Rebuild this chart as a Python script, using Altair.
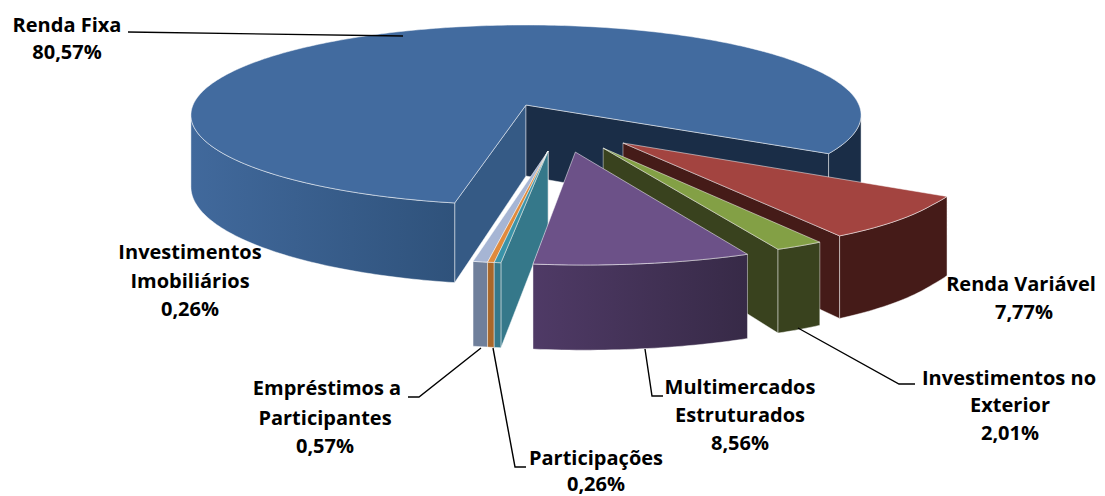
import math
import altair as alt
import pandas as pd

categories = ["Renda Fixa", "Renda Variável", "Investimentos no Exterior", "Multimercados Estruturados",
              "Investimentos Imobiliários", "Participações", "Empréstimos a Participantes"]
shares = [80.57, 7.77, 2.01, 8.56, 0.26, 0.26, 0.57]
top_colors = ["#426B9F", "#A34440", "#83A045", "#6C5188", "#3A93A8", "#E08A3C", "#A6B5D4"]
wall_left = ["#41699C", "#451B18", "#39421E", "#4F3A66", "#35788A", "#A8672A", "#6F7F9B"]
wall_right = ["#2F527B", "#451B18", "#39421E", "#372A47", "#35788A", "#A8672A", "#6F7F9B"]
start_face = ["#355A85", "#451B18", "#39421E", "#372A47", "#35788A", "#A8672A", "#6F7F9B"]
end_face = ["#1A2D47", "#451B18", "#39421E", "#372A47", "#35788A", "#A8672A", "#6F7F9B"]
explode_x = [0.0, 0.278, 0.22, 0.14, 0.0626, 0.0626, 0.0626]
explode_y = [0.0, 0.408, 0.46, 0.50, 0.49, 0.49, 0.49]

label_lines = [
    ("Renda Fixa", 67, 26), ("80,57%", 67, 53),
    ("Investimentos", 190, 253), ("Imobiliários", 190, 282), ("0,26%", 190, 310),
    ("Renda Variável", 1021, 285), ("7,77%", 1024, 313),
    ("Investimentos no", 1009, 379), ("Exterior", 1010, 406), ("2,01%", 1010, 434),
    ("Multimercados", 740, 388), ("Estruturados", 740, 416), ("8,56%", 740, 444),
    ("Empréstimos a", 327, 389), ("Participantes", 325, 419), ("0,57%", 325, 447),
    ("Participações", 596, 459), ("0,26%", 596, 485),
]
leaders = [
    [(128, 32), (403, 36)],
    [(408, 397), (419, 397), (481, 348)],
    [(493, 348), (515, 467), (526, 467)],
    [(645, 349), (652, 396), (663, 396)],
    [(798, 328), (899, 384), (915, 384)],
]

# projection of the tilted pie onto the page
CX, CY, A, B, K, H = 526.0, 105.0, 333.0, 88.9, 0.111, 71.0
STRETCH = 0.08
START_ANGLE = 191.0

W, H_PAGE = 1089, 488
xs = alt.Scale(domain=[8, 8 + W], nice=False, zero=False)
ys = alt.Scale(domain=[8 + H_PAGE, 8], nice=False, zero=False)


def project(wx, wy, drop=False):
    s = 1.0 / (1.0 - K * wy)
    stretch = 1.0 + STRETCH * max(0.0, wy - 1.0)
    return (CX + A * wx * s * stretch, CY + B * wy * s + (H * s if drop else 0.0))


def rim(theta, ex, ey, drop=False):
    t = math.radians(theta)
    return project(math.sin(t) + ex, -math.cos(t) + ey, drop)


def grad(c1, c2):
    return alt.Gradient(gradient="linear", x1=0, x2=1, y1=0, y2=0,
                        stops=[alt.GradientStop(offset=0, color=c1), alt.GradientStop(offset=1, color=c2)])


def poly(points, fill, edge=0.45):
    pts = list(points) + [points[0]]
    df = pd.DataFrame({"x": [p[0] for p in pts], "y": [p[1] for p in pts], "i": range(len(pts))})
    return alt.Chart(df).mark_line(fill=fill, stroke="#FFFFFF", strokeWidth=1, strokeOpacity=edge,
                                   strokeJoin="round", clip=False).encode(
        x=alt.X("x:Q", scale=xs, axis=None),
        y=alt.Y("y:Q", scale=ys, axis=None),
        order=alt.Order("i:Q"),
    )


def arc_points(a, b, ex, ey, drop=False):
    n = max(2, int(abs(b - a)) + 1)
    return [rim(a + (b - a) * j / n, ex, ey, drop) for j in range(n + 1)]


def slice_layers(i, a, b):
    ex, ey = explode_x[i], explode_y[i]
    apex, apex_low = project(ex, ey), project(ex, ey, True)
    out = []
    if -math.sin(math.radians(a)) > 0:
        out.append(poly([apex, rim(a, ex, ey), rim(a, ex, ey, True), apex_low], start_face[i]))
    if math.sin(math.radians(b)) > 0:
        out.append(poly([apex, rim(b, ex, ey), rim(b, ex, ey, True), apex_low], end_face[i]))
    # outer wall: only the arc that faces the viewer
    for lo, hi in [(96.4, 263.6), (456.4, 623.6)]:
        p, q = max(a, lo), min(b, hi)
        if q > p:
            fill = end_face[i] if lo > 360 and i == 0 else grad(wall_left[i], wall_right[i])
            pts = arc_points(p, q, ex, ey) + arc_points(q, p, ex, ey, True)
            out.append(poly(pts, fill))
    out.append(poly([apex] + arc_points(a, b, ex, ey), top_colors[i], 0.5))
    return out


# cumulative angles, clockwise from the back of the pie
spans = []
cur = START_ANGLE
for v in shares:
    spans.append((cur, cur + v * 3.6))
    cur += v * 3.6
# all but the first wrap past 360
spans = [spans[0]] + [(a - 360, b - 360) for a, b in spans[1:]]

layers = []
for i in [0, 1, 2, 6, 5, 4, 3]:
    layers += slice_layers(i, *spans[i])

for k, pts in enumerate(leaders):
    df = pd.DataFrame({"x": [p[0] for p in pts], "y": [p[1] for p in pts], "i": range(len(pts))})
    layers.append(alt.Chart(df).mark_line(color="#000000", strokeWidth=1.4).encode(
        x=alt.X("x:Q", scale=xs, axis=None), y=alt.Y("y:Q", scale=ys, axis=None), order=alt.Order("i:Q")))

labels = pd.DataFrame(label_lines, columns=["t", "x", "y"])
layers.append(alt.Chart(labels).mark_text(font="Open Sans", fontWeight="bold", fontSize=20, color="#000000",
                                          align="center", baseline="middle").encode(
    x=alt.X("x:Q", scale=xs, axis=None), y=alt.Y("y:Q", scale=ys, axis=None), text="t:N"))

chart = alt.layer(*layers).properties(
    width=W, height=H_PAGE, padding=0, autosize=alt.AutoSizeParams(type="none"),
    background="#FFFFFF", view=alt.ViewConfig(stroke=None),
)
chart.save("out.html", embed_options={"renderer": "svg", "actions": False})
